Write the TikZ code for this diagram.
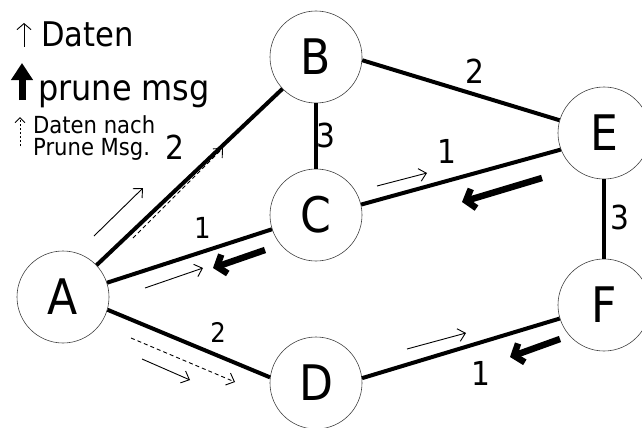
\documentclass[tikz,border=0pt]{standalone}
\usepackage{fontspec}
\setmainfont{DejaVu Sans Condensed}
\usetikzlibrary{arrows.meta}
\begin{document}
\begin{tikzpicture}[x=1pt,y=-1pt,
  vertex/.style={circle,draw=black!75,line width=0.6pt,minimum size=92pt,inner sep=0pt,font=\fontsize{49}{49}\selectfont},
  edge/.style={line width=4pt},
  wlabel/.style={font=\fontsize{33}{33}\selectfont,inner sep=0pt},
  datarrow/.style={line width=0.9pt,-{Straight Barb[length=7pt,width=13pt]}},
  afterprune/.style={datarrow,dash pattern=on 4pt off 3pt},
  prunearrow/.style={line width=6.5pt,-{Straight Barb[length=8pt,width=20pt]}},
  legtext/.style={anchor=base west,inner sep=0pt},
]
\useasboundingbox (0,0) rectangle (642,428);

% nodes
\node[vertex] (A) at (63,297) {A};
\node[vertex] (B) at (316,57) {B};
\node[vertex] (C) at (316,215) {C};
\node[vertex] (D) at (316,383) {D};
\node[vertex] (E) at (604,133) {E};
\node[vertex] (F) at (604,305) {F};

% edges
\draw[edge] (A) -- (B);
\draw[edge] (A) -- (C);
\draw[edge] (A.-16) -- (D.173);
\draw[edge] (B) -- (C);
\draw[edge] (B.-4) -- (E.164);
\draw[edge] (C.13) -- (E.201);
\draw[edge] (E) -- (F);
\draw[edge] (D.6) -- (F.197);

% weights
\node[wlabel] (wAB) at (175,147) {2};
\node[wlabel,font=\fontsize{29}{29}\selectfont] (wAC) at (203,228) {1};
\node[wlabel,font=\fontsize{27}{27}\selectfont] (wAD) at (218,332) {2};
\node[wlabel] (wBC) at (326,135) {3};
\node[wlabel] (wBE) at (475,71) {2};
\node[wlabel] (wCE) at (447,151) {1};
\node[wlabel] (wEF) at (620,217) {3};
\node[wlabel] (wDF) at (481,373) {1};

% message arrows
\coordinate (ab1) at (94,236);  \coordinate (ab2) at (143,188);
\coordinate (ab3) at (133,238); \coordinate (ab4) at (223,148);
\coordinate (ac1) at (145,288); \coordinate (ac2) at (203,268);
\coordinate (ac3) at (265,250); \coordinate (ac4) at (213,268);
\coordinate (ad1) at (142,359); \coordinate (ad2) at (190,380);
\coordinate (ad3) at (131,338); \coordinate (ad4) at (235,382);
\coordinate (ce1) at (377,186); \coordinate (ce2) at (427,173);
\coordinate (ce3) at (542,178); \coordinate (ce4) at (462,202);
\coordinate (df1) at (407,349); \coordinate (df2) at (466,333);
\coordinate (df3) at (560,339); \coordinate (df4) at (510,357);

\draw[datarrow] (ab1) -- (ab2);
\draw[afterprune] (ab3) -- (ab4);
\draw[datarrow] (ac1) -- (ac2);
\draw[prunearrow] (ac3) -- (ac4);
\draw[datarrow] (ad1) -- (ad2);
\draw[afterprune] (ad3) -- (ad4);
\draw[datarrow] (ce1) -- (ce2);
\draw[prunearrow] (ce3) -- (ce4);
\draw[datarrow] (df1) -- (df2);
\draw[prunearrow] (df3) -- (df4);

% legend
\node[legtext,font=\fontsize{34}{34}\selectfont] (leg1) at (41,47) {Daten};
\coordinate (l1a) at (24,47); \coordinate (l1b) at (24,23);
\draw[line width=0.9pt,-{Straight Barb[length=6pt,width=14pt]}] (l1a) -- (l1b);

\node[legtext,font=\fontsize{35.5}{35.5}\selectfont] (leg2) at (38,100) {prune msg};
\coordinate (l2a) at (22,100); \coordinate (l2b) at (22,63);
\draw[line width=7pt,-{Triangle[length=17pt,width=21pt]}] (l2a) -- (l2b);

\node[legtext,font=\fontsize{23.5}{23.5}\selectfont] (leg3) at (33,133) {Daten nach};
\node[legtext,font=\fontsize{23.5}{23.5}\selectfont] (leg4) at (33,155) {Prune Msg.};
\coordinate (l3a) at (20,146); \coordinate (l3b) at (20,117);
\draw[line width=0.9pt,dash pattern=on 2pt off 2pt,-{Straight Barb[length=5pt,width=10pt]}] (l3a) -- (l3b);
\end{tikzpicture}
\end{document}
